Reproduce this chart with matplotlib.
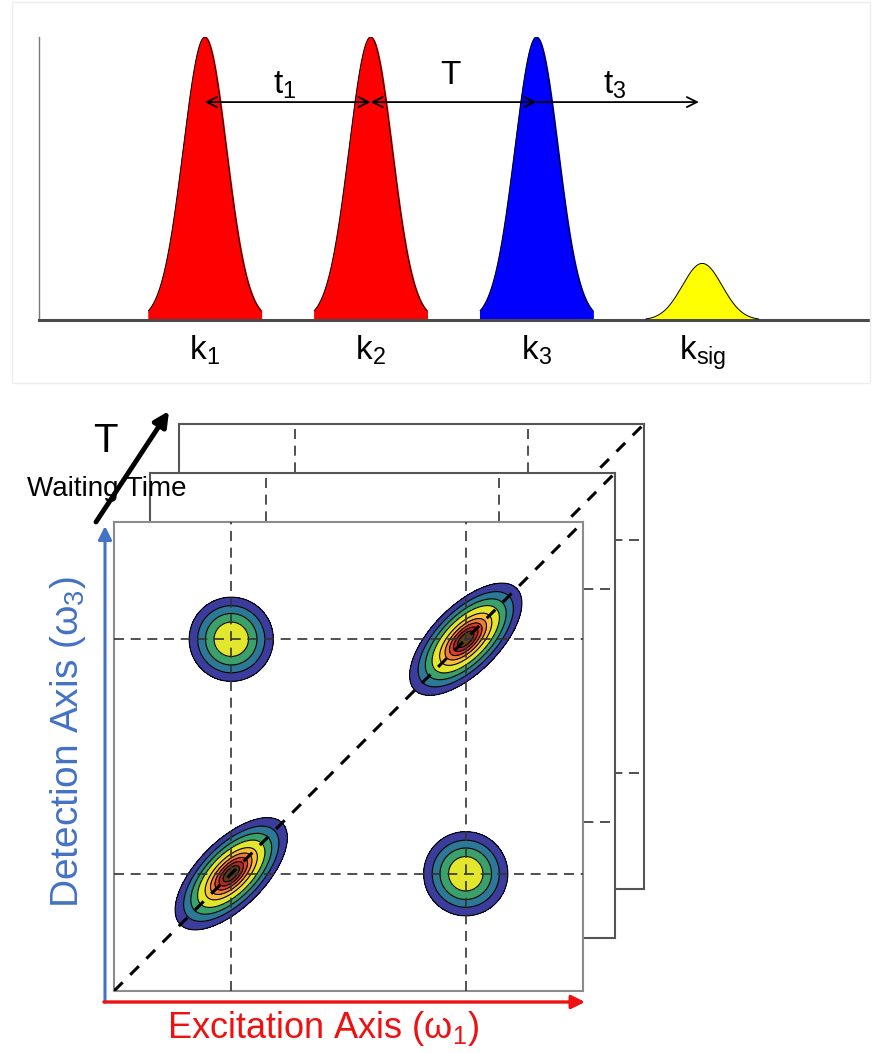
import numpy as np
import matplotlib
matplotlib.use('Agg')
import matplotlib.pyplot as plt
from matplotlib.patches import Rectangle

plt.rcParams['font.family'] = ['Liberation Sans', 'DejaVu Sans']
plt.rcParams['mathtext.fontset'] = 'custom'
plt.rcParams['mathtext.rm'] = 'Liberation Sans'
plt.rcParams['mathtext.it'] = 'Liberation Sans:italic'

# pulse sequence
pulse_names = ['k$_1$', 'k$_2$', 'k$_3$', 'k$_{\\mathrm{sig}}$']
pulse_pos = [1.0, 2.0, 3.0, 4.0]
pulse_height = [1.0, 1.0, 1.0, 0.2]
pulse_width = [0.13, 0.13, 0.13, 0.12]
pulse_color = ['#ff0000', '#ff0000', '#0000ff', '#ffff00']
delay_names = ['t$_1$', 'T', 't$_3$']
delay_start = [1.0, 2.0, 3.0]
delay_end = [2.0, 3.0, 3.98]
delay_both = [True, True, False]
delay_label_y = [0.83, 0.865, 0.83]

# 2D spectrum peaks
peak_x = [0.25, 0.75, 0.25, 0.75]
peak_y = [0.25, 0.75, 0.75, 0.25]
peak_amp = [1.0, 1.0, 0.6, 0.6]
peak_sig_diag = [0.073, 0.073, 0.0487, 0.0487]
peak_sig_anti = [0.034, 0.034, 0.0487, 0.0487]
levels = [0.11, 0.204, 0.318, 0.452, 0.62, 0.74, 0.83, 0.9, 0.955, 1.01]
level_colors = ['#3c3c9c', '#2c7896', '#3aa06c', '#e2e62c', '#f8c03a',
                '#ee7c36', '#dc3c2c', '#a82a22', '#5a3e1c']

W, H = 878, 1053
fig = plt.figure(figsize=(W / 100, H / 100), dpi=100)


def px_axes(x0, y0, x1, y1):
    return fig.add_axes([x0 / W, 1 - y1 / H, (x1 - x0) / W, (y1 - y0) / H])


# ---- top: pulse train ----
ax = px_axes(39, 37, 868, 320)
xs = np.linspace(0, 5, 3000)
for pos, h, w, c in zip(pulse_pos, pulse_height, pulse_width, pulse_color):
    m = np.abs(xs - pos) <= 0.34
    yy = h * np.exp(-(xs[m] - pos) ** 2 / (2 * w ** 2))
    ax.fill_between(xs[m], 0, yy, color=c, zorder=2)
    ax.plot(xs[m], yy, color='black', lw=0.7, zorder=3)
for s, e, both, name, ly in zip(delay_start, delay_end, delay_both,
                                delay_names, delay_label_y):
    ax.annotate('', xy=(e, 0.77), xytext=(s, 0.77),
                arrowprops=dict(arrowstyle='<->' if both else '->', color='black',
                                lw=1.3, shrinkA=0, shrinkB=0, mutation_scale=18),
                zorder=4)
    ax.text((s + e) / 2 - 0.02, ly, name, fontsize=24, ha='center', va='center')
ax.set_xlim(0, 5)
ax.set_ylim(0, 1)
ax.set_xticks(pulse_pos)
ax.set_xticklabels(pulse_names, fontsize=24)
ax.set_yticks([])
ax.tick_params(axis='x', direction='in', length=6, width=1, color='#555555', pad=10)
ax.spines['top'].set_visible(False)
ax.spines['right'].set_visible(False)
ax.spines['left'].set_color('#777777')
ax.spines['left'].set_linewidth(1.0)
ax.spines['bottom'].set_color('#4a4a4a')
ax.spines['bottom'].set_linewidth(2.2)

# ---- bottom: stacked 2D spectra ----
gx = np.linspace(0, 1, 600)
GX, GY = np.meshgrid(gx, gx)
Z = np.zeros_like(GX)
for x0, y0, a, sd, sa in zip(peak_x, peak_y, peak_amp, peak_sig_diag, peak_sig_anti):
    u = ((GX - x0) + (GY - y0)) / np.sqrt(2)
    v = (-(GX - x0) + (GY - y0)) / np.sqrt(2)
    Z += a * np.exp(-u ** 2 / (2 * sd ** 2) - v ** 2 / (2 * sa ** 2))

frames = [(179, 424, 644, 889, '#555555'),
          (150, 473, 615, 938, '#555555'),
          (114, 522, 583, 991, '#8c8c8c')]
for x0, y0, x1, y1, ec in frames:
    fa = px_axes(x0, y0, x1, y1)
    fa.set_facecolor('white')
    fa.contourf(GX, GY, Z, levels=levels, colors=level_colors, zorder=1)
    fa.contour(GX, GY, Z, levels=levels[:-1], colors='black', linewidths=0.8, zorder=2)
    for p in (0.25, 0.75):
        fa.axvline(p, color='#333333', lw=1.2, dashes=(6, 4), zorder=3)
        fa.axhline(p, color='#333333', lw=1.2, dashes=(6, 4), zorder=3)
    fa.plot([0, 1], [0, 1], color='black', lw=2.2, dashes=(4, 3.5), zorder=4)
    fa.set_xlim(0, 1)
    fa.set_ylim(0, 1)
    fa.set_xticks([])
    fa.set_yticks([])
    for sp in fa.spines.values():
        sp.set_color(ec)
        sp.set_linewidth(1.5)

# ---- axis arrows and labels ----
ov = fig.add_axes([0, 0, 1, 1])
ov.set_xlim(0, W)
ov.set_ylim(H, 0)
ov.axis('off')
ov.patch.set_alpha(0)
ov.add_patch(Rectangle((12, 2), 858, 381, fill=False, ec='#eeeeee', lw=1))
ov.annotate('', xy=(105, 526), xytext=(105, 1002),
            arrowprops=dict(arrowstyle='-|>', color='#4472c4', lw=2.2,
                            shrinkA=0, shrinkB=0, mutation_scale=20))
ov.annotate('', xy=(585, 1002), xytext=(104, 1002),
            arrowprops=dict(arrowstyle='-|>', color='#ee1111', lw=2.4,
                            shrinkA=0, shrinkB=0, mutation_scale=20))
ov.text(68, 742, 'Detection Axis (ω$_3$)', color='#4472c4', fontsize=28,
        rotation=90, ha='center', va='center')
ov.text(323, 1028, 'Excitation Axis (ω$_1$)', color='#ee1111', fontsize=26,
        ha='center', va='center')
ov.annotate('', xy=(169, 411), xytext=(96, 522),
            arrowprops=dict(arrowstyle='-|>', color='black', lw=3.5,
                            shrinkA=0, shrinkB=0, mutation_scale=22))
ov.text(105, 441, 'T', fontsize=29, ha='center', va='center')
ov.text(27, 489, 'Waiting Time', fontsize=20, ha='left', va='center')

fig.savefig('out.png', dpi=100)
